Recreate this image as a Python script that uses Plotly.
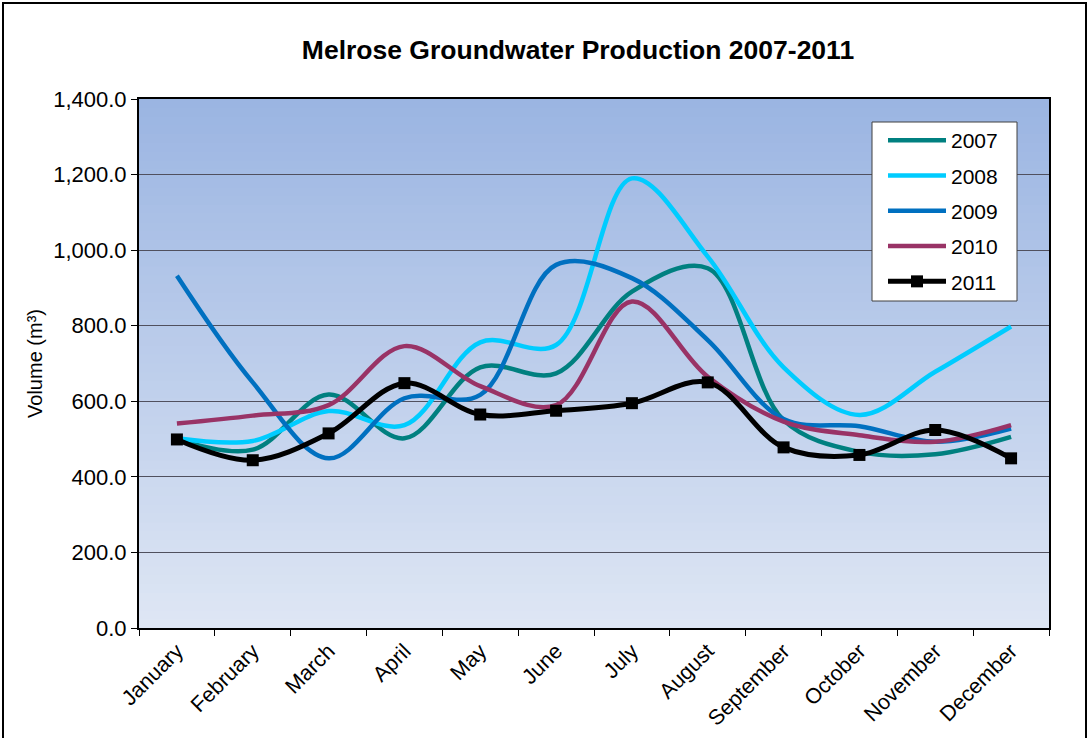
import plotly.graph_objects as go

months = ["January", "February", "March", "April", "May", "June", "July",
          "August", "September", "October", "November", "December"]

v2007 = [500, 472, 618, 502, 690, 674, 890, 952, 550, 466, 460, 506]
v2008 = [502, 495, 574, 537, 756, 749, 1190, 983, 690, 564, 678, 798]
v2009 = [932, 650, 449, 608, 617, 961, 926, 762, 553, 534, 493, 528]
v2010 = [541, 562, 590, 746, 640, 590, 864, 665, 546, 510, 493, 537]
v2011 = [499, 444, 515, 648, 565, 575, 595, 650, 478, 458, 524, 449]

series = [
    ("2007", v2007, "#008080"),
    ("2008", v2008, "#00CCFF"),
    ("2009", v2009, "#0070C0"),
    ("2010", v2010, "#993366"),
]

FONT = "Arial, Liberation Sans, sans-serif"

fig = go.Figure()
for name, vals, col in series:
    fig.add_trace(go.Scatter(
        x=months, y=vals, name=name, mode="lines",
        line=dict(color=col, width=4.5, shape="spline", smoothing=1.0),
        legendgroup=name,
    ))
fig.add_trace(go.Scatter(
    x=months, y=v2011, name="2011", mode="lines+markers",
    line=dict(color="black", width=5, shape="spline", smoothing=1.0),
    marker=dict(symbol="square", size=12, color="black"),
    legendgroup="2011",
))

L, R, T, B = 139, 1049, 99, 628
W, H = 1089, 738
def px(x):
    return (x - L) / (R - L)
def py(y):
    return (B - y) / (B - T)

# gradient plot-area background (overlapping stripes)
top = (155, 181, 226)
bot = (222, 230, 244)
n = 60
shapes = []
for k in range(n):
    t = k / (n - 1)
    c = tuple(round(bot[j] + (top[j] - bot[j]) * t) for j in range(3))
    shapes.append(dict(type="rect", xref="paper", yref="paper",
                       x0=0, x1=1, y0=k / n, y1=min(1, (k + 2) / n),
                       fillcolor="rgb(%d,%d,%d)" % c, line=dict(width=0),
                       layer="below"))

# legend box
shapes.append(dict(type="rect", xref="paper", yref="paper",
                   x0=px(872), x1=px(1017), y0=py(301), y1=py(122),
                   fillcolor="white", line=dict(color="#404040", width=1),
                   layer="above"))

# outer chart frame
shapes.append(dict(type="rect", xref="paper", yref="paper",
                   x0=px(3), x1=px(1086), y0=py(760), y1=py(3),
                   line=dict(color="black", width=2), fillcolor="rgba(0,0,0,0)",
                   layer="above"))

fig.update_layout(
    width=W, height=H,
    margin=dict(l=L, r=W - R, t=T, b=H - B, pad=0),
    paper_bgcolor="white",
    plot_bgcolor="rgba(0,0,0,0)",
    font=dict(family=FONT, size=21, color="black"),
    title=dict(text="<b>Melrose Groundwater Production 2007-2011</b>",
               x=578 / W, xanchor="center", y=1 - 50 / H, yanchor="middle",
               font=dict(family=FONT, size=26.5, color="black")),
    shapes=shapes,
    showlegend=True,
    legend=dict(x=px(883), y=py(120), xanchor="left", yanchor="top",
                bgcolor="rgba(0,0,0,0)", borderwidth=0,
                font=dict(family=FONT, size=21), itemwidth=58,
                traceorder="grouped", tracegroupgap=5),
    xaxis=dict(type="category", range=[-0.5, 11.5], tickson="boundaries",
               ticks="outside", ticklen=6, tickcolor="black", tickangle=-45,
               showline=True, linecolor="black", linewidth=2, mirror=True,
               showgrid=False, automargin=False,
               tickfont=dict(family=FONT, size=21.5)),
    yaxis=dict(range=[0, 1400], dtick=200, tickformat=",.1f",
               ticks="outside", ticklen=6, tickcolor="black",
               showline=True, linecolor="black", linewidth=2, mirror=True,
               showgrid=True, gridcolor="#50505e", gridwidth=1,
               zeroline=False, automargin=False,
               tickfont=dict(family=FONT, size=22),
               title=dict(text="Volume (m³)", font=dict(family=FONT, size=20),
                          standoff=5)),
)

fig.write_html("out.html", config={"displayModeBar": False},
               post_script="document.body.style.margin='0';document.body.style.overflow='hidden';")
